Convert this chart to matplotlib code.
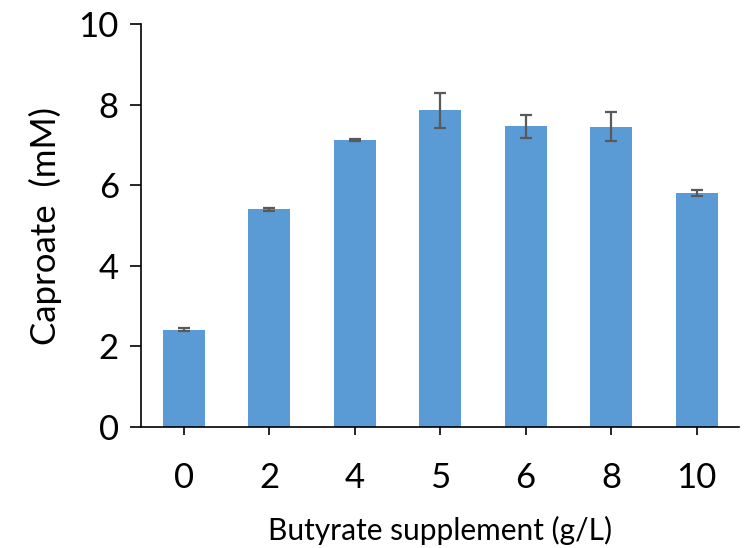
import numpy as np
import matplotlib
matplotlib.use('Agg')
from matplotlib import pyplot as plt

#-------------------------------------------------

doses    = ['0', '2', '4', '5', '6', '8', '10']
caproate = [2.42, 5.40, 7.12, 7.86, 7.46, 7.45, 5.81]
err      = [0.03, 0.03, 0.02, 0.43, 0.28, 0.36, 0.08]

#-------------------------------------------------

plt.rcParams['font.family'] = ['Lato', 'DejaVu Sans']

fig = plt.figure(figsize=(7.48, 5.48), dpi=100)
ax  = fig.add_axes([0.1885, 0.2208, 0.80, 0.7352])

x = np.arange(len(doses))
ax.bar(x, caproate, width=0.49, color='#5B9BD5', zorder=2)
ax.errorbar(x, caproate, yerr=err, fmt='none', ecolor='#595959',
            elinewidth=1.6, capsize=4.5, capthick=1.6, zorder=3)

ax.set_xlim(-0.5, len(doses)-0.5)
ax.set_ylim(0, 10)
ax.set_yticks([0, 2, 4, 6, 8, 10])
ax.set_xticks(x)
ax.set_xticklabels(doses)

for side in ['top', 'right']:
    ax.spines[side].set_visible(False)
for side in ['left', 'bottom']:
    ax.spines[side].set_linewidth(1.2)
    ax.spines[side].set_color('black')

ax.tick_params(axis='both', labelsize=25, width=1.2, color='black')
ax.tick_params(axis='y', length=8, pad=8)
ax.tick_params(axis='x', length=6, pad=19)

ax.set_xlabel('Butyrate supplement (g/L)', fontsize=21.5, labelpad=16)
ax.set_ylabel('Caproate  (mM)', fontsize=25, labelpad=12)

fig.savefig('out.png', dpi=100)
plt.close(fig)
